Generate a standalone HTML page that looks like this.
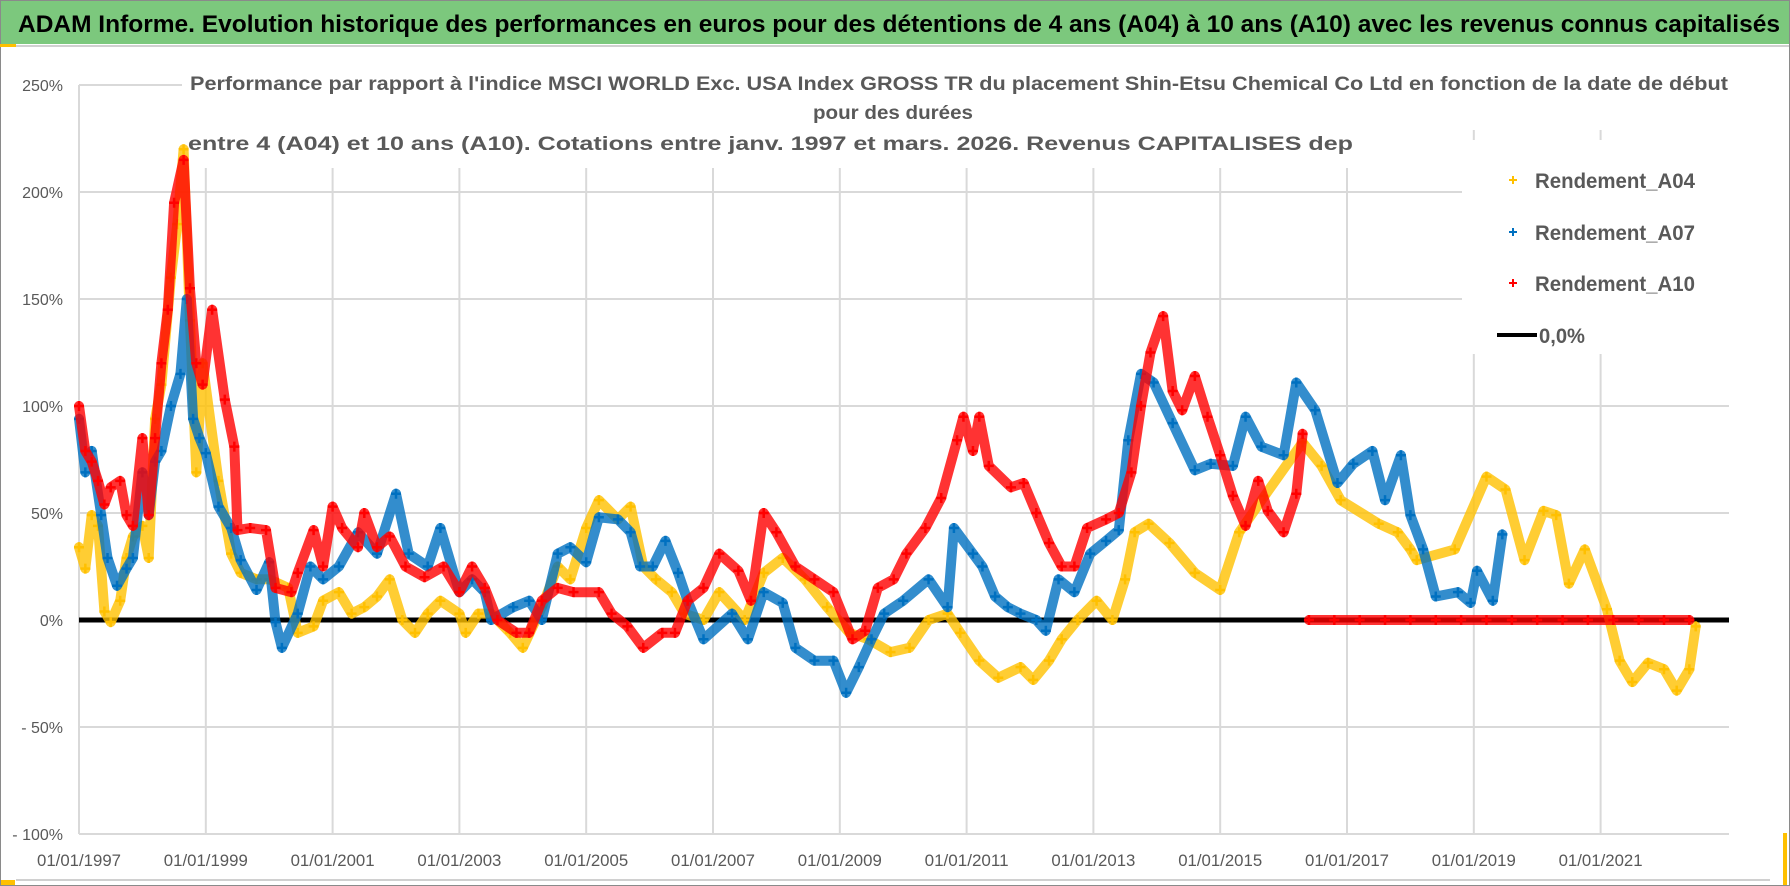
<!DOCTYPE html>
<html><head><meta charset="utf-8"><title>ADAM Informe</title>
<style>
html,body{margin:0;padding:0;background:#fff;}
svg{display:block;font-family:"Liberation Sans",sans-serif;}
</style></head>
<body>
<svg id="chart" width="1790" height="886" viewBox="0 0 1790 886" xmlns="http://www.w3.org/2000/svg">
  <rect x="0" y="0" width="1790" height="886" fill="#fff"/>
  <rect x="0.5" y="0.5" width="1789" height="885" fill="none" stroke="#8a8a8a"/>
  <rect x="1" y="1" width="1788" height="43" fill="#7cc87d"/>
  <rect x="0" y="44" width="16" height="3" fill="#ffc000"/>
  <line x1="16" y1="46" x2="1789" y2="46" stroke="#d0d0d0" stroke-width="2"/>
  <text x="18" y="32" font-size="24" font-weight="bold" fill="#000" textLength="1762" lengthAdjust="spacingAndGlyphs">ADAM Informe. Evolution historique des performances en euros pour des détentions de 4 ans (A04) à 10 ans (A10) avec les revenus connus capitalisés</text>
  <g id="grid"></g>
  <g id="covers"></g>
  <g id="yaxis"></g>
  <g id="xaxis"></g>
  <g id="series"></g>
  <g>
    <text x="190" y="90" font-size="19" font-weight="bold" fill="#595959" textLength="1538" lengthAdjust="spacingAndGlyphs">Performance par rapport à l'indice MSCI WORLD Exc. USA Index GROSS TR  du placement Shin-Etsu Chemical Co Ltd en fonction de la date de début</text>
    <text x="893" y="119" font-size="19" font-weight="bold" fill="#595959" text-anchor="middle" textLength="160" lengthAdjust="spacingAndGlyphs">pour des durées</text>
    <text x="188" y="150" font-size="19" font-weight="bold" fill="#595959" textLength="1165" lengthAdjust="spacingAndGlyphs">entre 4 (A04) et 10 ans (A10). Cotations entre janv. 1997 et mars. 2026. Revenus CAPITALISES dep</text>
  </g>
  <g>
    <rect x="1462" y="140" width="280" height="214" fill="#fff"/>
    <g>
      <path d="M1509 180h8M1513 176v8" stroke="#ffc000" stroke-width="2"/>
      <text x="1535" y="188" font-size="21" font-weight="bold" fill="#595959" textLength="160" lengthAdjust="spacingAndGlyphs">Rendement_A04</text>
    </g>
    <g>
      <path d="M1509 232h8M1513 228v8" stroke="#0070c0" stroke-width="2"/>
      <text x="1535" y="240" font-size="21" font-weight="bold" fill="#595959" textLength="160" lengthAdjust="spacingAndGlyphs">Rendement_A07</text>
    </g>
    <g>
      <path d="M1509 283h8M1513 279v8" stroke="#ff0000" stroke-width="2"/>
      <text x="1535" y="291" font-size="21" font-weight="bold" fill="#595959" textLength="160" lengthAdjust="spacingAndGlyphs">Rendement_A10</text>
    </g>
    <g>
      <line x1="1497" y1="335" x2="1537" y2="335" stroke="#000" stroke-width="4"/>
      <text x="1539" y="343" font-size="21" font-weight="bold" fill="#595959" textLength="46" lengthAdjust="spacingAndGlyphs">0,0%</text>
    </g>
  </g>
  <line x1="16" y1="880" x2="1770" y2="880" stroke="#d0d0d0" stroke-width="2"/>
  <rect x="1" y="880" width="14" height="5" fill="#ffc000"/>
  <rect x="1783" y="833" width="4" height="52" fill="#ffc000"/>
</svg>
<script>
const yTicks = [250, 200, 150, 100, 50, 0, -50, -100];
const yTickLabels = ["250%", "200%", "150%", "100%", "50%", "0%", "- 50%", "- 100%"];
const xTickYears = [1997, 1999, 2001, 2003, 2005, 2007, 2009, 2011, 2013, 2015, 2017, 2019, 2021];
const xTickLabels = ["01/01/1997","01/01/1999","01/01/2001","01/01/2003","01/01/2005","01/01/2007","01/01/2009","01/01/2011","01/01/2013","01/01/2015","01/01/2017","01/01/2019","01/01/2021"];

const a04Dates = [1997.0,1997.1,1997.2,1997.3,1997.4,1997.5,1997.65,1997.75,1997.85,1998.0,1998.1,1998.2,1998.3,1998.45,1998.55,1998.65,1998.75,1998.85,1998.95,1999.2,1999.4,1999.55,1999.8,2000.0,2000.3,2000.45,2000.7,2000.85,2001.1,2001.3,2001.5,2001.7,2001.9,2002.1,2002.3,2002.5,2002.7,2003.0,2003.1,2003.3,2003.5,2003.8,2004.0,2004.3,2004.55,2004.75,2005.0,2005.2,2005.5,2005.7,2005.9,2006.1,2006.35,2006.55,2006.85,2007.1,2007.5,2007.8,2008.1,2008.45,2008.8,2009.15,2009.45,2009.8,2010.1,2010.4,2010.7,2010.9,2011.2,2011.5,2011.85,2012.05,2012.3,2012.5,2012.75,2013.05,2013.3,2013.5,2013.65,2013.87,2014.2,2014.6,2015.0,2015.3,2015.7,2016.3,2016.6,2016.9,2017.5,2017.8,2018.0,2018.1,2018.7,2019.2,2019.5,2019.8,2020.1,2020.3,2020.5,2020.75,2021.1,2021.3,2021.5,2021.75,2022.0,2022.2,2022.4,2022.5];
const a04Values = [34,24,49,44,4,-1,9,29,39,44,29,94,110,160,185,220,140,69,120,65,31,22,19,19,15,-6,-3,9,13,3,6,11,19,0,-6,3,9,3,-6,3,3,-6,-13,6,25,19,43,56,47,53,25,19,13,3,0,13,0,22,29,19,6,-6,-9,-15,-13,0,3,-6,-19,-27,-22,-28,-19,-9,0,9,0,19,41,45,36,22,14,41,58,83,72,56,45,41,33,28,33,67,61,28,51,49,17,33,5,-19,-29,-20,-23,-33,-23,-3];

const a07Dates = [1997.0,1997.1,1997.2,1997.35,1997.45,1997.6,1997.75,1997.85,1998.0,1998.1,1998.2,1998.3,1998.45,1998.6,1998.7,1998.8,1998.9,1999.0,1999.2,1999.4,1999.55,1999.8,2000.0,2000.1,2000.2,2000.45,2000.65,2000.85,2001.1,2001.4,2001.7,2002.0,2002.2,2002.5,2002.7,2003.0,2003.2,2003.4,2003.5,2003.85,2004.1,2004.3,2004.55,2004.75,2005.0,2005.2,2005.5,2005.7,2005.85,2006.05,2006.25,2006.45,2006.6,2006.85,2007.3,2007.55,2007.8,2008.1,2008.3,2008.6,2008.9,2009.1,2009.3,2009.5,2009.7,2010.0,2010.4,2010.7,2010.8,2011.1,2011.25,2011.45,2011.65,2011.85,2012.1,2012.25,2012.45,2012.7,2012.95,2013.2,2013.4,2013.55,2013.75,2013.95,2014.25,2014.6,2014.85,2015.2,2015.4,2015.65,2016.0,2016.2,2016.5,2016.85,2017.1,2017.4,2017.6,2017.85,2018.0,2018.2,2018.4,2018.75,2018.95,2019.05,2019.3,2019.45];
const a07Values = [94,69,79,49,29,16,24,29,69,49,74,79,100,115,150,94,85,78,53,43,28,14,27,-1,-13,3,25,19,25,41,31,59,31,25,43,13,19,13,0,6,9,0,31,34,27,48,47,41,25,25,37,22,9,-9,3,-9,13,8,-13,-19,-19,-34,-22,-9,3,9,19,6,43,31,25,11,6,3,0,-5,19,13,31,37,42,84,115,111,92,70,73,72,95,81,77,111,98,64,73,79,56,77,49,33,11,13,8,23,9,40];

const a10Dates = [1997.0,1997.1,1997.2,1997.3,1997.4,1997.5,1997.65,1997.75,1997.85,1998.0,1998.1,1998.2,1998.3,1998.4,1998.5,1998.65,1998.75,1998.85,1998.95,1999.1,1999.3,1999.45,1999.5,1999.7,1999.95,2000.1,2000.35,2000.45,2000.7,2000.85,2001.0,2001.15,2001.4,2001.5,2001.7,2001.9,2002.15,2002.45,2002.75,2003.0,2003.2,2003.4,2003.6,2003.9,2004.1,2004.3,2004.55,2004.8,2005.2,2005.4,2005.65,2005.9,2006.2,2006.4,2006.6,2006.85,2007.1,2007.4,2007.6,2007.8,2008.0,2008.3,2008.6,2008.9,2009.2,2009.4,2009.6,2009.85,2010.05,2010.35,2010.6,2010.85,2010.95,2011.1,2011.2,2011.35,2011.7,2011.9,2012.1,2012.3,2012.5,2012.7,2012.9,2013.2,2013.4,2013.6,2013.75,2013.9,2014.1,2014.25,2014.4,2014.6,2014.8,2015.0,2015.2,2015.4,2015.6,2015.75,2016.0,2016.2,2016.3,2016.4,2016.8,2017.2,2017.6,2018.0,2018.4,2018.8,2019.2,2019.6,2020.0,2020.4,2020.8,2021.2,2021.6,2022.0,2022.4,2022.85];
const a10Values = [100,79,74,65,54,62,65,49,44,85,49,85,120,145,195,215,155,120,110,145,103,81,42,43,42,15,13,22,42,25,53,43,34,50,34,39,25,20,25,13,25,15,0,-6,-6,9,15,13,13,3,-3,-13,-6,-6,9,15,31,23,9,50,41,25,19,13,-9,-5,15,19,31,43,57,84,95,79,95,72,62,64,50,36,25,25,43,47,50,69,100,125,142,107,98,114,95,77,58,44,65,51,41,59,87,0,0,0,0,0,0,0,0,0,0,0,0,0,0,0,0];

const NS = "http://www.w3.org/2000/svg";
const X0 = 79, PXPERYEAR = 63.4, XEND = 1729;
const Y0 = 620, PXPERPCT = 2.14;
function xScale(year) { return X0 + (year - 1997) * PXPERYEAR; }
function yScale(v) { return Y0 - v * PXPERPCT; }
function mk(tag, attrs, parent) {
  const el = document.createElementNS(NS, tag);
  for (const k in attrs) el.setAttribute(k, attrs[k]);
  parent.appendChild(el);
  return el;
}

const grid = document.getElementById("grid");
yTicks.forEach(function (v) {
  const l = mk("line", {x1: X0, x2: XEND, y1: yScale(v), y2: yScale(v), stroke: "#d9d9d9", "stroke-width": 2}, grid);
  
  
});
xTickYears.forEach(function (yr) {
  const l = mk("line", {x1: xScale(yr), x2: xScale(yr), y1: yScale(250), y2: yScale(-100), stroke: "#d9d9d9", "stroke-width": 2}, grid);
  
  
});
const covers = document.getElementById("covers");
const c1 = mk("rect", {x: 182, y: 60, width: 1560, height: 70, fill: "#fff"}, covers);


const c2 = mk("rect", {x: 182, y: 128, width: 1180, height: 40, fill: "#fff"}, covers);



const yaxis = document.getElementById("yaxis");
yTicks.forEach(function (v, i) {
  const t = mk("text", {x: 63, y: yScale(v) + 6, "font-size": 16, fill: "#595959", "text-anchor": "end"}, yaxis);
  t.textContent = yTickLabels[i];
  
  
});
const xaxis = document.getElementById("xaxis");
xTickYears.forEach(function (yr, i) {
  const t = mk("text", {x: xScale(yr), y: 866, "font-size": 17, fill: "#595959", "text-anchor": "middle", textLength: 84, lengthAdjust: "spacingAndGlyphs"}, xaxis);
  t.textContent = xTickLabels[i];
  
  
});

const series = document.getElementById("series");
const zero = mk("line", {x1: X0, x2: XEND, y1: yScale(0), y2: yScale(0), stroke: "#000", "stroke-width": 5}, series);



function drawSeries(dates, values, color, name) {
  const g = mk("g", {}, series);
  
  
  // split off trailing run of zero values (series with no data yet)
  let last = values.length - 1;
  while (last > 0 && values[last] === 0) last--;
  const mainIdx = [], tailIdx = [];
  dates.forEach(function (d, i) { if (i <= last) mainIdx.push(i); else tailIdx.push(i); });
  const segs = [mainIdx, tailIdx];
  segs.forEach(function (idx) {
    if (idx.length < 2) return;
    const pts = idx.map(function (i) { return xScale(dates[i]).toFixed(1) + "," + yScale(values[i]).toFixed(1); }).join(" ");
    const band = mk("polyline", {points: pts, fill: "none", stroke: color, "stroke-width": 10, "stroke-linejoin": "round", "stroke-linecap": "round", opacity: 0.8}, g);
    
    
  });
  dates.forEach(function (d, i) {
    const x = xScale(d), y = yScale(values[i]);
    const p = mk("path", {d: "M" + (x - 5) + " " + y + "h10M" + x + " " + (y - 5) + "v10", stroke: color, "stroke-width": 2.5}, g);
    
    
  });
}
drawSeries(a04Dates, a04Values, "#ffc000", "series-a04");
drawSeries(a07Dates, a07Values, "#0070c0", "series-a07");
drawSeries(a10Dates, a10Values, "#ff0000", "series-a10");
</script>
</body></html>
